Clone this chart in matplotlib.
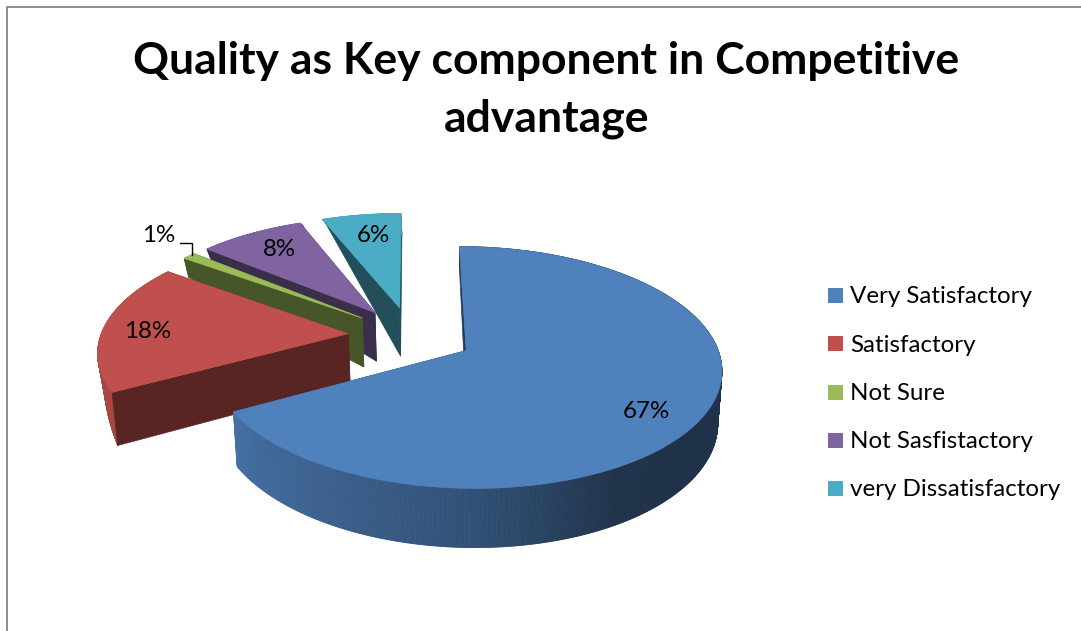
import numpy as np
import matplotlib
matplotlib.use("Agg")
import matplotlib.pyplot as plt
from matplotlib.collections import PolyCollection
from matplotlib.patches import Polygon, Rectangle

plt.rcParams["font.family"] = ["Lato", "DejaVu Sans"]

title_lines = ["Quality as Key component in Competitive", "advantage"]
categories = ["Very Satisfactory", "Satisfactory", "Not Sure", "Not Sasfistactory", "very Dissatisfactory"]
shares = [67, 18, 1, 8, 6]
colors = ["#4f81bd", "#c0504d", "#9bbb59", "#8064a2", "#4bacc6"]

# pie geometry, in pixels of the canvas
CX, CY = 411.0, 335.5
RADIUS = 247.5
EXPLODE = 63.0
TILT = 0.462
PERSPECTIVE = 0.000555
DEPTH = 50.0
SHRINK = 0.984
VIEW_X = 462.0


def depth_scale(angle):
    # wall height around the rim, it thins out towards the back of the pie
    return np.interp(np.asarray(angle) % 360,
                     [0, 60, 241, 272, 300, 306, 313, 360],
                     [0.5, 1, 1, 0.03, 0.03, 0.42, 0.05, 0.05])


def project(x, y, drop=0.0):
    s = 1.0 / (1.0 + PERSPECTIVE * y)
    sx = CX + x * s
    sy = CY - TILT * y * s
    low = drop > 0
    sx = np.where(low, VIEW_X + (sx - VIEW_X) * SHRINK, sx)
    sy = sy + DEPTH * s * drop
    return np.column_stack([sx, sy])


def shade(color, factor):
    return tuple(c * factor for c in matplotlib.colors.to_rgb(color))


def wall_light(angle):
    # outer wall brightness against the clockwise angle from 12 o'clock
    return np.interp(angle % 360, [0, 150, 180, 241, 360], [0.39, 0.39, 0.62, 0.87, 0.87])


def draw_slice(ax, start, stop, color):
    mid = np.radians((start + stop) / 2)
    off_x, off_y = EXPLODE * np.sin(mid), EXPLODE * np.cos(mid)
    steps = max(int(stop - start) * 3, 6)
    degrees = np.linspace(start, stop, steps + 1)
    theta = np.radians(degrees)
    arc_x = off_x + RADIUS * np.sin(theta)
    arc_y = off_y + RADIUS * np.cos(theta)
    apex_x, apex_y = np.array([off_x]), np.array([off_y])

    top_arc = project(arc_x, arc_y)
    low_arc = project(arc_x, arc_y, drop=depth_scale(degrees))
    apex_top = project(apex_x, apex_y)
    apex_low = project(apex_x, apex_y, drop=np.array([1.0]))

    def cut_face(i):
        face = np.vstack([apex_top, top_arc[i], low_arc[i], apex_low])
        ax.add_patch(Polygon(face, closed=True, fc=shade(color, 0.46), ec=shade(color, 0.46), lw=0.5))

    # closing face goes behind the rim, opening face in front of it
    cut_face(-1)

    # rim, split in narrow strips for the shading
    quads = [np.vstack([top_arc[i], top_arc[i + 1], low_arc[i + 1], low_arc[i]]) for i in range(steps)]
    rim_colors = [shade(color, wall_light(a)) for a in (degrees[:-1] + degrees[1:]) / 2]
    ax.add_collection(PolyCollection(quads, facecolors=rim_colors, edgecolors=rim_colors, linewidths=0.6))

    cut_face(0)

    ax.add_patch(Polygon(np.vstack([apex_top, top_arc]), closed=True, fc=color, ec=color, lw=0.5))


fig = plt.figure(figsize=(10.81, 6.31), dpi=100)
ax = fig.add_axes([0, 0, 1, 1])
ax.set_xlim(0, 1081)
ax.set_ylim(631, 0)
ax.axis("off")

# chart frame, open on the right and at the bottom
ax.plot([7, 7, 1081], [631, 7, 7], color="#868686", lw=1.3, solid_joinstyle="miter")

for line, ty in zip(title_lines, [61, 119]):
    ax.text(546.5, ty, line, ha="center", va="center", fontsize=32, fontweight="bold", color="black")

# angles run clockwise from 12 o'clock; slices are painted back to front
bounds = np.cumsum([0] + shares) * 3.6
for i in [4, 3, 2, 1, 0]:
    draw_slice(ax, bounds[i], bounds[i + 1], colors[i])

label_xy = [(646, 411), (148, 331), (159, 236), (279, 249), (373, 236)]
for share, (lx, ly) in zip(shares, label_xy):
    ax.text(lx, ly, f"{share}%", ha="center", va="center", fontsize=17.4, color="black")

# leader line of the smallest slice
ax.plot([180, 192, 192], [243, 243, 255], color="black", lw=1.0, solid_joinstyle="miter")

# legend
legend_y = [295, 343.5, 392, 440, 488]
for name, color, ly in zip(categories, colors, legend_y):
    ax.add_patch(Rectangle((828, ly - 7.5), 15, 15, fc=color, ec="none"))
    ax.text(850, ly + 1.5, name, ha="left", va="center", fontsize=17.4, color="black")

fig.savefig("out.png", dpi=100)
